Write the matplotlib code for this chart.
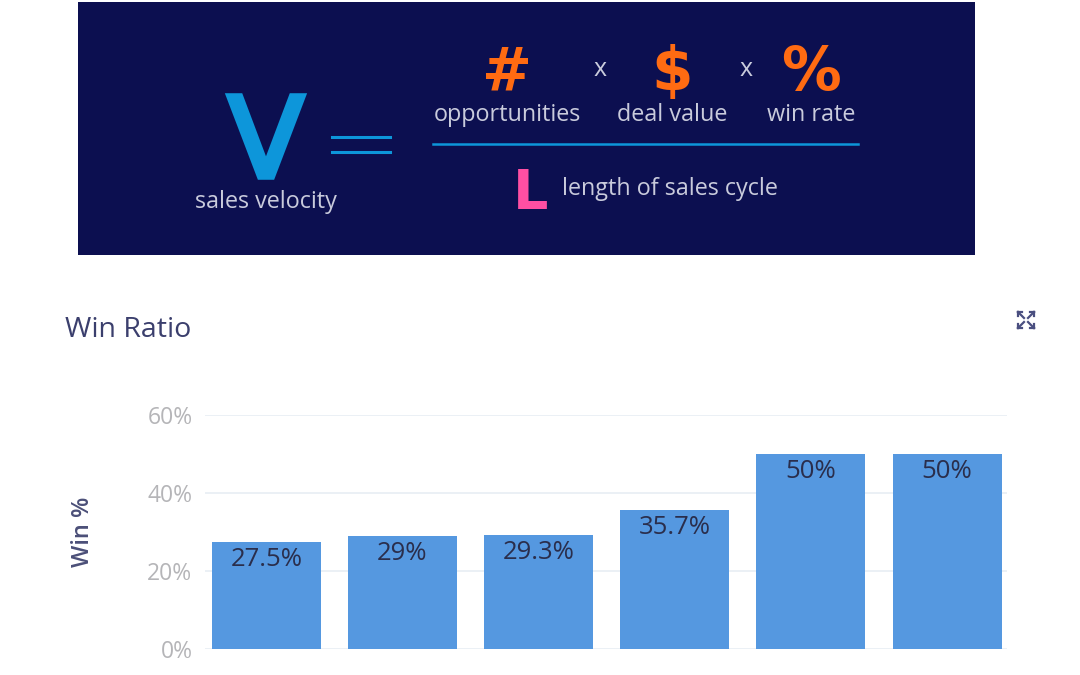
import matplotlib.pyplot as plt
import matplotlib.patheffects as pe
import numpy as np

# data
win_rates = [27.5, 29, 29.3, 35.7, 50, 50]
bar_labels = ["27.5%", "29%", "29.3%", "35.7%", "50%", "50%"]
y_ticks = [0, 20, 40, 60]
y_tick_labels = ["0%", "20%", "40%", "60%"]

W, H = 1080, 675
NAVY = "#0c0f50"
BLUE = "#0d96da"
ORANGE = "#ff6b12"
PINK = "#ff4fa3"
LIGHT = "#c9cbdc"
BAR = "#5598e0"


def fx(x):
    return x / W


def fy(y):
    return 1 - y / H


fig = plt.figure(figsize=(10.8, 6.75), dpi=100, facecolor="white")

# ---- banner with the sales velocity formula ----
banner = fig.add_axes([fx(78), fy(255), fx(975 - 78), (255 - 2) / H])
banner.set_facecolor(NAVY)
banner.set_xticks([])
banner.set_yticks([])
for s in banner.spines.values():
    s.set_visible(False)

bfont = "Open Sans"
fig.text(fx(266), fy(177), "V", color=BLUE, fontsize=80, family="DejaVu Sans",
         ha="center", va="baseline",
         path_effects=[pe.Stroke(linewidth=4, foreground=BLUE, joinstyle="miter"),
                       pe.Normal()])
fig.text(fx(266), fy(208), "sales velocity", color=LIGHT, fontsize=16.8,
         family=bfont, ha="center", va="baseline")
for yy in (137, 152):
    fig.add_artist(plt.Line2D([fx(332), fx(390)], [fy(yy), fy(yy)],
                              color=BLUE, lw=2.2))
fig.add_artist(plt.Line2D([fx(433), fx(858)], [fy(144), fy(144)],
                          color=BLUE, lw=1.8))

for x, sym, word in [(507, "#", "opportunities"), (672, "$", "deal value"),
                     (811, "%", "win rate")]:
    fig.text(fx(x), fy(90), sym, color=ORANGE, fontsize=43, fontweight="bold",
             family="DejaVu Sans", ha="center", va="baseline")
    fig.text(fx(x), fy(121), word, color=LIGHT, fontsize=16.8, family=bfont,
             ha="center", va="baseline")
for x in (600, 746):
    fig.text(fx(x), fy(69), "x", color=LIGHT, fontsize=18, family=bfont,
             ha="center", va="center")

fig.text(fx(531), fy(209), "L", color=PINK, fontsize=40, fontweight="bold",
         family="DejaVu Sans", ha="center", va="baseline")
fig.text(fx(562), fy(195), "length of sales cycle", color=LIGHT, fontsize=16.8,
         family=bfont, ha="left", va="baseline")

# ---- win ratio chart ----
fig.text(fx(65), fy(330), "Win Ratio", color="#3b3f6d", fontsize=20.5,
         family="Open Sans", ha="left", va="center")

ax = fig.add_axes([fx(205), fy(649), fx(1007 - 205), (649 - 415) / H])
x = np.arange(len(win_rates))
bars = ax.bar(x, win_rates, width=0.8, color=BAR, zorder=2)
ax.set_xlim(-0.45, 5.44)
ax.set_ylim(0, 60)
ax.set_yticks(y_ticks)
ax.set_yticklabels(y_tick_labels, color="#b5b5b8", fontsize=16.5, family="Open Sans")
ax.set_xticks([])
ax.tick_params(axis="y", length=0, pad=9)
ax.grid(axis="y", color="#e8edf3", lw=1.2, zorder=0)
for s in ax.spines.values():
    s.set_visible(False)
ax.set_ylabel("Win %", color="#4b4f78", fontsize=17, family="Open Sans",
              fontweight="semibold", labelpad=38)

for rect, lab in zip(bars, bar_labels):
    ax.annotate(lab, (rect.get_x() + rect.get_width() / 2, rect.get_height()),
                xytext=(0, -3.5), textcoords="offset points", ha="center",
                va="top", fontsize=18.5, color="#2a2e4c", family="Open Sans")

# expand icon
cx, cy, d = 1026, 320, 8
for sx in (-1, 1):
    for sy in (-1, 1):
        fig.add_artist(plt.Line2D([fx(cx + sx * 2), fx(cx + sx * d)],
                                  [fy(cy + sy * 2), fy(cy + sy * d)],
                                  color="#4a4f80", lw=1.6))
        fig.add_artist(plt.Line2D([fx(cx + sx * d), fx(cx + sx * d)],
                                  [fy(cy + sy * d), fy(cy + sy * (d - 4))],
                                  color="#4a4f80", lw=1.6))
        fig.add_artist(plt.Line2D([fx(cx + sx * d), fx(cx + sx * (d - 4))],
                                  [fy(cy + sy * d), fy(cy + sy * d)],
                                  color="#4a4f80", lw=1.6))

fig.savefig("out.png", dpi=100, facecolor="white")
